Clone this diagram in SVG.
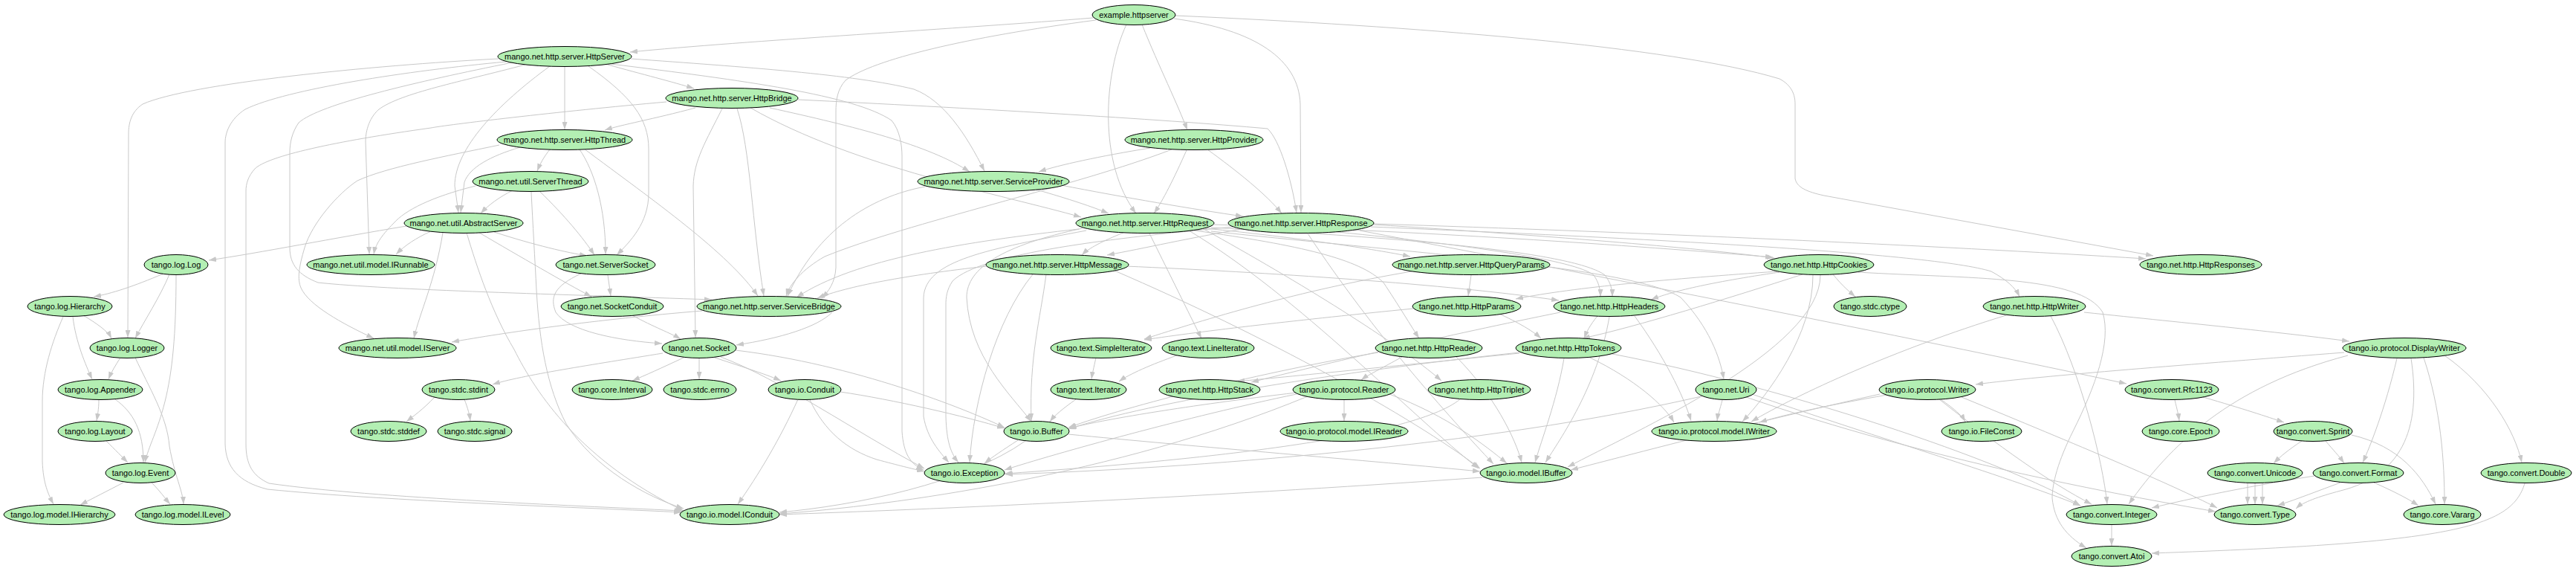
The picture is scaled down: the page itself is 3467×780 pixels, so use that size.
<svg xmlns="http://www.w3.org/2000/svg" width="3467" height="780" viewBox="0 0 3467 780">
<style>
.n ellipse{fill:#b3efb3;stroke:#000;stroke-width:1}
.n text{font-family:"Liberation Sans",Arial,sans-serif;font-size:11px;text-anchor:middle;fill:#000}
.e path{fill:none;stroke:#c8c8c8;stroke-width:1;marker-end:url(#a)}
</style>
<defs>
<marker id="a" markerWidth="10" markerHeight="7" refX="10" refY="3.5" orient="auto" markerUnits="userSpaceOnUse"><path d="M0,0 L10,3.5 L0,7 z" fill="#c8c8c8"/></marker>
</defs>
<rect width="3467" height="780" fill="#fff"/>
<g id="edges" class="e">
<path d="M1471,24 C1300,38 1000,55 848,70"/>
<path d="M1537,33 C1560,90 1585,140 1598,175"/>
<path d="M1516,33 C1485,100 1478,220 1529,287"/>
<path d="M1580,25 C1690,40 1748,80 1750,140 L1751,286"/>
<path d="M1582,21 C1900,35 2250,62 2395,106 C2412,115 2416,128 2416,140 L2416,240 C2418,252 2432,258 2455,263 L2898,344"/>
<path d="M1475,27 C1300,50 1175,80 1138,108 C1127,120 1125,135 1125,150 L1125,360 C1124,380 1115,392 1106,401"/>
<path d="M818,87 C865,100 905,110 934,119"/>
<path d="M760,90 L760,174"/>
<path d="M740,89 C670,140 612,200 612,250 L617,286"/>
<path d="M792,89 C850,130 873,160 873,200 L873,260 C873,300 848,325 830,343"/>
<path d="M849,79 C1000,90 1150,100 1230,120 C1270,135 1300,180 1325,230"/>
<path d="M671,79 C500,88 255,112 192,140 C177,150 173,165 173,180 L172,454"/>
<path d="M707,87 C620,110 540,125 510,147 C495,160 492,180 492,190 L497,342"/>
<path d="M681,83 C550,95 385,120 330,147 C310,160 303,178 303,192 L303,597 C304,628 320,648 360,658 C520,674 800,683 917,689"/>
<path d="M690,84 C560,110 430,140 402,165 C393,178 390,192 390,205 L390,333 C390,356 402,370 428,380 C520,390 760,396 958,403"/>
<path d="M822,86 C1000,108 1150,128 1200,162 C1211,175 1214,195 1214,210 L1214,580 C1216,610 1225,624 1243,632"/>
<path d="M936,145 C880,160 835,168 814,175"/>
<path d="M992,146 C1010,200 1012,300 1028,398"/>
<path d="M972,146 C950,190 934,215 933,250 L936,454"/>
<path d="M1074,134 C1300,145 1560,160 1706,173 C1722,188 1738,240 1745,286"/>
<path d="M1036,145 C1150,170 1250,195 1305,231"/>
<path d="M1010,145 C1150,225 1350,262 1455,292"/>
<path d="M897,137 C750,150 600,168 580,172 C450,190 360,210 343,227 C334,237 331,247 331,257 L331,597 C331,625 340,640 362,650 C500,670 800,681 918,687"/>
<path d="M740,201 C732,211 727,220 723,230"/>
<path d="M700,198 C660,210 632,225 625,245 L620,286"/>
<path d="M780,201 C800,230 815,280 815,342"/>
<path d="M786,200 C880,270 980,340 1020,398"/>
<path d="M672,195 C600,210 520,225 481,243 C455,260 420,300 410,333 C402,360 400,375 405,387 C415,410 460,435 503,455"/>
<path d="M1548,199 C1480,210 1425,222 1398,231"/>
<path d="M1597,202 C1580,240 1565,270 1553,287"/>
<path d="M1625,201 C1665,230 1705,262 1725,287"/>
<path d="M1577,201 C1450,250 1220,300 1110,345 C1080,362 1063,382 1058,398"/>
<path d="M690,256 C672,265 657,276 647,287"/>
<path d="M726,257 C760,290 785,320 800,343"/>
<path d="M640,250 C580,265 545,283 530,300 C512,318 505,330 503,342"/>
<path d="M715,258 C717,300 720,350 722,390 C726,460 736,520 762,570 C800,630 870,668 920,684"/>
<path d="M1395,255 C1440,268 1470,278 1492,287"/>
<path d="M1428,249 C1510,265 1610,282 1673,291"/>
<path d="M1245,251 C1170,265 1100,310 1060,398"/>
<path d="M547,304 C450,320 350,340 281,350"/>
<path d="M580,311 C560,320 545,330 533,342"/>
<path d="M665,312 C720,330 765,340 790,344"/>
<path d="M645,313 C700,345 760,380 796,399"/>
<path d="M596,313 C585,380 565,420 557,455"/>
<path d="M628,313 C642,360 662,420 692,470 C722,530 782,620 920,687"/>
<path d="M1512,313 C1484,324 1465,334 1456,343"/>
<path d="M1547,314 C1570,360 1592,405 1617,455"/>
<path d="M1452,308 C1300,325 1150,348 1072,400"/>
<path d="M1622,307 C1750,320 1850,335 1898,345"/>
<path d="M1630,306 C1900,320 2120,340 2160,370 C2168,380 2170,390 2170,399"/>
<path d="M1634,302 C1900,310 2200,330 2386,346"/>
<path d="M1608,310 C1750,330 1830,348 1862,380 C1882,410 1900,440 1910,455"/>
<path d="M1630,311 C1900,340 2200,360 2262,400 C2300,440 2315,480 2320,510"/>
<path d="M1457,307 C1350,330 1301,360 1301,400 C1305,480 1360,530 1388,567"/>
<path d="M1462,310 C1330,335 1245,350 1243,400 L1243,560 C1248,590 1265,608 1277,622"/>
<path d="M1620,308 C1750,380 1880,460 1940,512"/>
<path d="M1600,310 C1750,400 1900,560 1990,630"/>
<path d="M1672,308 C1600,320 1540,334 1490,343"/>
<path d="M1800,312 C1980,330 2120,350 2145,370 C2152,380 2154,390 2154,399"/>
<path d="M1848,302 C2100,318 2300,335 2388,347"/>
<path d="M1849,301 C2200,312 2600,330 2888,348"/>
<path d="M1845,305 C2200,320 2600,340 2680,365 C2700,376 2712,386 2718,399"/>
<path d="M1830,310 C2200,380 2600,460 2862,516"/>
<path d="M1660,305 C1500,320 1320,340 1282,378 C1274,390 1273,400 1273,410 L1273,560 C1274,595 1280,610 1290,622"/>
<path d="M1760,314 C1850,450 1950,560 2010,624"/>
<path d="M1515,358 C1700,366 1950,382 2098,404"/>
<path d="M1408,369 C1400,430 1385,480 1388,566"/>
<path d="M1390,369 C1340,430 1310,540 1305,622"/>
<path d="M1500,364 C1700,450 1900,560 1992,630"/>
<path d="M1328,358 C1220,370 1140,385 1100,401"/>
<path d="M1980,370 L1976,398"/>
<path d="M1900,365 C1750,390 1620,430 1540,456"/>
<path d="M2467,369 C2480,385 2490,393 2497,399"/>
<path d="M2395,366 C2300,380 2250,392 2222,403"/>
<path d="M2392,365 C2250,375 2120,386 2040,402"/>
<path d="M2426,369 C2330,400 2200,440 2130,455"/>
<path d="M2440,370 C2440,450 2380,530 2345,567"/>
<path d="M2450,370 C2450,470 2200,580 2110,628"/>
<path d="M2500,366 C2650,375 2800,370 2830,420 C2842,460 2820,520 2790,580 C2770,620 2762,650 2762,670 C2765,700 2780,720 2808,737"/>
<path d="M945,418 C800,430 680,447 608,460"/>
<path d="M1120,420 C1100,440 1050,455 991,464"/>
<path d="M851,424 C880,440 903,448 916,456"/>
<path d="M818,370 L822,398"/>
<path d="M782,368 C745,385 740,400 748,420 C765,445 830,458 891,462"/>
<path d="M892,475 C800,490 700,505 663,517"/>
<path d="M920,481 C890,495 868,505 851,512"/>
<path d="M941,482 L941,510"/>
<path d="M962,481 C1005,495 1035,505 1051,512"/>
<path d="M990,471 C1150,490 1300,550 1352,575"/>
<path d="M970,480 C1050,510 1150,580 1244,630"/>
<path d="M625,537 C630,550 632,558 633,566"/>
<path d="M585,534 C570,550 556,560 547,567"/>
<path d="M1074,537 C1050,590 1020,640 993,678"/>
<path d="M1090,538 C1110,580 1140,605 1180,618 C1210,626 1226,630 1244,634"/>
<path d="M1131,527 C1200,537 1300,560 1352,576"/>
<path d="M1448,537 C1430,550 1420,558 1413,567"/>
<path d="M1475,481 C1472,495 1470,503 1469,510"/>
<path d="M1584,478 C1550,490 1520,503 1506,513"/>
<path d="M1370,592 C1350,605 1335,615 1325,623"/>
<path d="M1438,584 C1600,600 1850,620 1992,634"/>
<path d="M1380,593 C1300,650 1150,680 1049,689"/>
<path d="M2020,423 C2050,437 2065,447 2074,455"/>
<path d="M1902,415 C1750,430 1620,445 1540,457"/>
<path d="M2150,425 C2140,437 2135,447 2132,455"/>
<path d="M2100,420 C1950,450 1780,490 1684,514"/>
<path d="M2166,426 C2150,520 2100,590 2080,622"/>
<path d="M2200,425 C2240,480 2265,530 2276,566"/>
<path d="M2045,475 C1900,490 1750,505 1665,513"/>
<path d="M2105,482 C2095,540 2075,590 2066,622"/>
<path d="M2045,474 C1800,500 1550,540 1438,577"/>
<path d="M2140,481 C2200,510 2240,545 2253,568"/>
<path d="M2170,476 C2400,520 2700,620 2800,680"/>
<path d="M1887,480 C1860,495 1840,505 1832,511"/>
<path d="M1960,480 C2010,530 2040,590 2048,622"/>
<path d="M1855,474 C1700,500 1520,545 1438,575"/>
<path d="M1809,538 L1809,566"/>
<path d="M1870,530 C1950,560 2000,600 2028,623"/>
<path d="M1745,530 C1600,560 1420,610 1352,632"/>
<path d="M1745,528 C1600,545 1480,565 1439,576"/>
<path d="M1760,533 C1500,640 1200,680 1049,691"/>
<path d="M1965,537 C1900,590 1600,620 1352,637"/>
<path d="M2318,538 C2315,550 2312,558 2311,566"/>
<path d="M2358,530 C2500,580 2700,640 2800,680"/>
<path d="M2290,533 C2000,600 1600,630 1353,638"/>
<path d="M2350,534 C2600,620 2850,665 2982,688"/>
<path d="M2540,531 C2460,545 2400,558 2368,568"/>
<path d="M2612,537 C2630,550 2640,558 2645,567"/>
<path d="M2530,530 C2350,570 2200,610 2114,632"/>
<path d="M2610,537 C2690,600 2760,650 2815,678"/>
<path d="M2640,534 C2800,600 2920,650 2984,683"/>
<path d="M2700,424 C2550,470 2420,530 2357,567"/>
<path d="M2805,420 C2950,435 3080,448 3162,459"/>
<path d="M2760,425 C2800,500 2830,620 2836,678"/>
<path d="M3155,474 C2950,490 2750,505 2659,517"/>
<path d="M3226,482 C3210,550 3190,600 3180,622"/>
<path d="M3262,481 C3285,550 3290,620 3290,678"/>
<path d="M3290,478 C3350,520 3385,580 3394,622"/>
<path d="M3245,482 C3260,580 3230,640 3150,660 C3120,668 3100,675 3090,684"/>
<path d="M3160,478 C3000,520 2920,600 2865,678"/>
<path d="M2927,538 C2930,550 2932,558 2933,566"/>
<path d="M2965,534 C3020,550 3050,560 3074,568"/>
<path d="M3098,593 C3080,605 3070,613 3060,623"/>
<path d="M3130,593 C3140,605 3148,613 3155,623"/>
<path d="M3165,585 C3230,600 3260,640 3278,678"/>
<path d="M3025,650 L3025,678"/>
<path d="M3035,650 L3035,678"/>
<path d="M3045,650 L3045,678"/>
<path d="M3150,649 C3120,660 3095,670 3065,680"/>
<path d="M3195,649 C3220,660 3240,670 3255,680"/>
<path d="M3115,640 C3020,655 2950,670 2896,683"/>
<path d="M3398,650 C3380,710 3300,730 2896,744"/>
<path d="M2842,706 L2842,734"/>
<path d="M1995,642 C1600,670 1250,685 1049,692"/>
<path d="M220,368 C180,385 150,395 126,399"/>
<path d="M228,369 C215,400 195,430 182,455"/>
<path d="M237,370 C237,450 232,500 222,540 C212,580 200,600 195,622"/>
<path d="M112,424 C130,435 145,445 150,455"/>
<path d="M98,426 C102,460 115,490 124,510"/>
<path d="M85,426 C70,460 57,500 57,540 L57,620 C58,650 65,665 72,678"/>
<path d="M162,481 C155,492 150,500 146,510"/>
<path d="M182,481 C200,520 225,560 228,600 C235,640 246,660 247,678"/>
<path d="M133,538 C133,550 131,560 130,566"/>
<path d="M155,537 C180,555 193,580 193,622"/>
<path d="M143,593 C155,605 165,615 172,622"/>
<path d="M166,649 C145,660 125,670 108,679"/>
<path d="M204,649 C215,660 222,670 229,678"/>
</g>
<g id="n_example_httpserver" class="n"><ellipse cx="1526" cy="20" rx="56" ry="13.5"/><text x="1526" y="24">example.httpserver</text></g>
<g id="n_HttpServer" class="n"><ellipse cx="760" cy="76" rx="90" ry="13.5"/><text x="760" y="80">mango.net.http.server.HttpServer</text></g>
<g id="n_HttpBridge" class="n"><ellipse cx="985" cy="132" rx="89" ry="13.5"/><text x="985" y="136">mango.net.http.server.HttpBridge</text></g>
<g id="n_HttpThread" class="n"><ellipse cx="760" cy="188" rx="91" ry="13.5"/><text x="760" y="192">mango.net.http.server.HttpThread</text></g>
<g id="n_HttpProvider" class="n"><ellipse cx="1607" cy="188" rx="93" ry="13.5"/><text x="1607" y="192">mango.net.http.server.HttpProvider</text></g>
<g id="n_ServerThread" class="n"><ellipse cx="714" cy="244" rx="78" ry="13.5"/><text x="714" y="248">mango.net.util.ServerThread</text></g>
<g id="n_ServiceProvider" class="n"><ellipse cx="1337" cy="244" rx="102" ry="13.5"/><text x="1337" y="248">mango.net.http.server.ServiceProvider</text></g>
<g id="n_AbstractServer" class="n"><ellipse cx="624" cy="300" rx="80" ry="13.5"/><text x="624" y="304">mango.net.util.AbstractServer</text></g>
<g id="n_HttpRequest" class="n"><ellipse cx="1541" cy="300" rx="93" ry="13.5"/><text x="1541" y="304">mango.net.http.server.HttpRequest</text></g>
<g id="n_HttpResponse" class="n"><ellipse cx="1751" cy="300" rx="98" ry="13.5"/><text x="1751" y="304">mango.net.http.server.HttpResponse</text></g>
<g id="n_Log" class="n"><ellipse cx="237" cy="356" rx="43" ry="13.5"/><text x="237" y="360">tango.log.Log</text></g>
<g id="n_IRunnable" class="n"><ellipse cx="499" cy="356" rx="86" ry="13.5"/><text x="499" y="360">mango.net.util.model.IRunnable</text></g>
<g id="n_ServerSocket" class="n"><ellipse cx="815" cy="356" rx="67" ry="13.5"/><text x="815" y="360">tango.net.ServerSocket</text></g>
<g id="n_HttpMessage" class="n"><ellipse cx="1423" cy="356" rx="96" ry="13.5"/><text x="1423" y="360">mango.net.http.server.HttpMessage</text></g>
<g id="n_HttpQueryParams" class="n"><ellipse cx="1980" cy="356" rx="106" ry="13.5"/><text x="1980" y="360">mango.net.http.server.HttpQueryParams</text></g>
<g id="n_HttpCookies" class="n"><ellipse cx="2448" cy="356" rx="74" ry="13.5"/><text x="2448" y="360">tango.net.http.HttpCookies</text></g>
<g id="n_HttpResponses" class="n"><ellipse cx="2962" cy="356" rx="82" ry="13.5"/><text x="2962" y="360">tango.net.http.HttpResponses</text></g>
<g id="n_Hierarchy" class="n"><ellipse cx="94" cy="412" rx="57" ry="13.5"/><text x="94" y="416">tango.log.Hierarchy</text></g>
<g id="n_SocketConduit" class="n"><ellipse cx="824" cy="412" rx="69" ry="13.5"/><text x="824" y="416">tango.net.SocketConduit</text></g>
<g id="n_ServiceBridge" class="n"><ellipse cx="1035" cy="412" rx="97" ry="13.5"/><text x="1035" y="416">mango.net.http.server.ServiceBridge</text></g>
<g id="n_HttpParams" class="n"><ellipse cx="1974" cy="412" rx="73" ry="13.5"/><text x="1974" y="416">tango.net.http.HttpParams</text></g>
<g id="n_HttpHeaders" class="n"><ellipse cx="2166" cy="412" rx="75" ry="13.5"/><text x="2166" y="416">tango.net.http.HttpHeaders</text></g>
<g id="n_ctype" class="n"><ellipse cx="2517" cy="412" rx="49" ry="13.5"/><text x="2517" y="416">tango.stdc.ctype</text></g>
<g id="n_HttpWriter" class="n"><ellipse cx="2738" cy="412" rx="69" ry="13.5"/><text x="2738" y="416">tango.net.http.HttpWriter</text></g>
<g id="n_Logger" class="n"><ellipse cx="171" cy="468" rx="50" ry="13.5"/><text x="171" y="472">tango.log.Logger</text></g>
<g id="n_IServer" class="n"><ellipse cx="535" cy="468" rx="79" ry="13.5"/><text x="535" y="472">mango.net.util.model.IServer</text></g>
<g id="n_Socket" class="n"><ellipse cx="941" cy="468" rx="50" ry="13.5"/><text x="941" y="472">tango.net.Socket</text></g>
<g id="n_SimpleIterator" class="n"><ellipse cx="1482" cy="468" rx="68" ry="13.5"/><text x="1482" y="472">tango.text.SimpleIterator</text></g>
<g id="n_LineIterator" class="n"><ellipse cx="1626" cy="468" rx="62" ry="13.5"/><text x="1626" y="472">tango.text.LineIterator</text></g>
<g id="n_HttpReader" class="n"><ellipse cx="1923" cy="468" rx="72" ry="13.5"/><text x="1923" y="472">tango.net.http.HttpReader</text></g>
<g id="n_HttpTokens" class="n"><ellipse cx="2111" cy="468" rx="71" ry="13.5"/><text x="2111" y="472">tango.net.http.HttpTokens</text></g>
<g id="n_DisplayWriter" class="n"><ellipse cx="3236" cy="468" rx="83" ry="13.5"/><text x="3236" y="472">tango.io.protocol.DisplayWriter</text></g>
<g id="n_Appender" class="n"><ellipse cx="135" cy="524" rx="57" ry="13.5"/><text x="135" y="528">tango.log.Appender</text></g>
<g id="n_stdint" class="n"><ellipse cx="617" cy="524" rx="49" ry="13.5"/><text x="617" y="528">tango.stdc.stdint</text></g>
<g id="n_Interval" class="n"><ellipse cx="824" cy="524" rx="54" ry="13.5"/><text x="824" y="528">tango.core.Interval</text></g>
<g id="n_errno" class="n"><ellipse cx="942" cy="524" rx="49" ry="13.5"/><text x="942" y="528">tango.stdc.errno</text></g>
<g id="n_Conduit" class="n"><ellipse cx="1083" cy="524" rx="49" ry="13.5"/><text x="1083" y="528">tango.io.Conduit</text></g>
<g id="n_Iterator" class="n"><ellipse cx="1465" cy="524" rx="51" ry="13.5"/><text x="1465" y="528">tango.text.Iterator</text></g>
<g id="n_HttpStack" class="n"><ellipse cx="1628" cy="524" rx="68" ry="13.5"/><text x="1628" y="528">tango.net.http.HttpStack</text></g>
<g id="n_Reader" class="n"><ellipse cx="1809" cy="524" rx="69" ry="13.5"/><text x="1809" y="528">tango.io.protocol.Reader</text></g>
<g id="n_HttpTriplet" class="n"><ellipse cx="1991" cy="524" rx="69" ry="13.5"/><text x="1991" y="528">tango.net.http.HttpTriplet</text></g>
<g id="n_Uri" class="n"><ellipse cx="2323" cy="524" rx="41" ry="13.5"/><text x="2323" y="528">tango.net.Uri</text></g>
<g id="n_Writer" class="n"><ellipse cx="2594" cy="524" rx="65" ry="13.5"/><text x="2594" y="528">tango.io.protocol.Writer</text></g>
<g id="n_Rfc1123" class="n"><ellipse cx="2923" cy="524" rx="63" ry="13.5"/><text x="2923" y="528">tango.convert.Rfc1123</text></g>
<g id="n_Layout" class="n"><ellipse cx="128" cy="580" rx="50" ry="13.5"/><text x="128" y="584">tango.log.Layout</text></g>
<g id="n_stddef" class="n"><ellipse cx="523" cy="580" rx="51" ry="13.5"/><text x="523" y="584">tango.stdc.stddef</text></g>
<g id="n_signal" class="n"><ellipse cx="639" cy="580" rx="50" ry="13.5"/><text x="639" y="584">tango.stdc.signal</text></g>
<g id="n_Buffer" class="n"><ellipse cx="1395" cy="580" rx="44" ry="13.5"/><text x="1395" y="584">tango.io.Buffer</text></g>
<g id="n_IReader" class="n"><ellipse cx="1809" cy="580" rx="86" ry="13.5"/><text x="1809" y="584">tango.io.protocol.model.IReader</text></g>
<g id="n_IWriter" class="n"><ellipse cx="2307" cy="580" rx="84" ry="13.5"/><text x="2307" y="584">tango.io.protocol.model.IWriter</text></g>
<g id="n_FileConst" class="n"><ellipse cx="2667" cy="580" rx="54" ry="13.5"/><text x="2667" y="584">tango.io.FileConst</text></g>
<g id="n_Epoch" class="n"><ellipse cx="2935" cy="580" rx="52" ry="13.5"/><text x="2935" y="584">tango.core.Epoch</text></g>
<g id="n_Sprint" class="n"><ellipse cx="3113" cy="580" rx="53" ry="13.5"/><text x="3113" y="584">tango.convert.Sprint</text></g>
<g id="n_Event" class="n"><ellipse cx="189" cy="636" rx="47" ry="13.5"/><text x="189" y="640">tango.log.Event</text></g>
<g id="n_Exception" class="n"><ellipse cx="1298" cy="636" rx="54" ry="13.5"/><text x="1298" y="640">tango.io.Exception</text></g>
<g id="n_IBuffer" class="n"><ellipse cx="2054" cy="636" rx="62" ry="13.5"/><text x="2054" y="640">tango.io.model.IBuffer</text></g>
<g id="n_Unicode" class="n"><ellipse cx="3035" cy="636" rx="64" ry="13.5"/><text x="3035" y="640">tango.convert.Unicode</text></g>
<g id="n_Format" class="n"><ellipse cx="3174" cy="636" rx="61" ry="13.5"/><text x="3174" y="640">tango.convert.Format</text></g>
<g id="n_Double" class="n"><ellipse cx="3400" cy="636" rx="61" ry="13.5"/><text x="3400" y="640">tango.convert.Double</text></g>
<g id="n_IHierarchy" class="n"><ellipse cx="80" cy="692" rx="75" ry="13.5"/><text x="80" y="696">tango.log.model.IHierarchy</text></g>
<g id="n_ILevel" class="n"><ellipse cx="246" cy="692" rx="64" ry="13.5"/><text x="246" y="696">tango.log.model.ILevel</text></g>
<g id="n_IConduit" class="n"><ellipse cx="982" cy="692" rx="67" ry="13.5"/><text x="982" y="696">tango.io.model.IConduit</text></g>
<g id="n_Integer" class="n"><ellipse cx="2842" cy="692" rx="61" ry="13.5"/><text x="2842" y="696">tango.convert.Integer</text></g>
<g id="n_Type" class="n"><ellipse cx="3035" cy="692" rx="55" ry="13.5"/><text x="3035" y="696">tango.convert.Type</text></g>
<g id="n_Vararg" class="n"><ellipse cx="3287" cy="692" rx="52" ry="13.5"/><text x="3287" y="696">tango.core.Vararg</text></g>
<g id="n_Atoi" class="n"><ellipse cx="2842" cy="748" rx="54" ry="13.5"/><text x="2842" y="752">tango.convert.Atoi</text></g>
</svg>
